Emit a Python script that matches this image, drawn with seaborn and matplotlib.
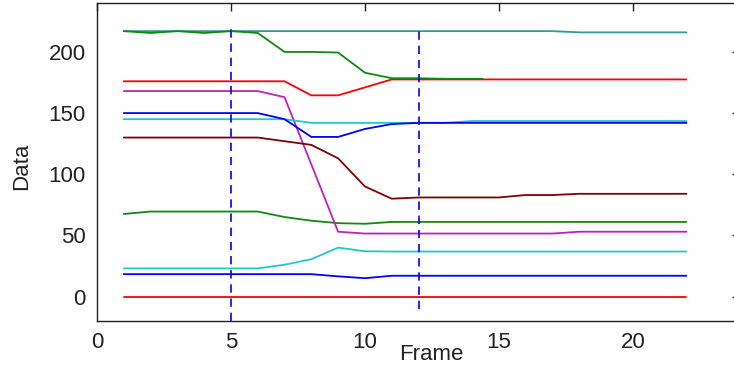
import matplotlib
matplotlib.use("Agg")
import matplotlib.pyplot as plt
import seaborn as sns
import pandas as pd
import numpy as np

frames = list(range(1, 23))

# series values (frames 1..22)
teal_top   = [217]*17 + [216]*5
red_top    = [176, 176, 176, 176, 176, 176, 176, 164.5, 164.5, 171, 177.5] + [177.5]*11
magenta    = [168, 168, 168, 168, 168, 168, 163, 108, 53, 51.5, 51.5, 51.5, 51.5, 51.5,
              51.5, 51.5, 51.5, 53, 53, 53, 53, 53]
blue_top   = [150, 150, 150, 150, 150, 150, 145, 130.5, 130.5, 137, 141, 142] + [142]*10
cyan_top   = [145]*7 + [142]*6 + [143.5]*9
brown      = [130, 130, 130, 130, 130, 130, 127, 124, 113, 90, 80, 81, 81, 81, 81,
              83, 83, 84, 84, 84, 84, 84]
green_low  = [67.5, 69.5, 69.5, 69.5, 69.5, 69.5, 65, 62, 60, 59.5] + [61]*12
cyan_low   = [23]*6 + [26, 30.5, 40, 37] + [36.8]*12
blue_low   = [18.3]*8 + [16.5, 15] + [17]*12
red_low    = [0]*22

green_frames = list(range(1, 15)) + [14.4]
green_top  = [217, 215.5, 217, 215.5, 217, 215.5, 200, 200, 199.5, 183, 178.5,
              178.5, 178, 178, 178]

vlines_x = [5, 12]
vlines_ymin = [-20, -10]
vlines_ymax = [221, 221]

xticks = [0, 5, 10, 15, 20]
yticks = [0, 50, 100, 150, 200]

sns.set_style("white")
plt.rcParams['font.family'] = ['Liberation Sans', 'DejaVu Sans']

fig = plt.figure(figsize=(7.34, 3.68), dpi=100)
ax = fig.add_axes([97/734, 1 - 321/368, 643/734, 318/368])

series = [
    (frames, red_low, '#ff0000'),
    (frames, blue_low, '#0000ff'),
    (frames, cyan_low, '#20c8c8'),
    (frames, green_low, '#118811'),
    (frames, magenta, '#c020c0'),
    (frames, brown, '#800000'),
    (frames, cyan_top, '#20c8c8'),
    (frames, blue_top, '#0000ff'),
    (frames, teal_top, '#339999'),
    (frames, red_top, '#ff0000'),
    (green_frames, green_top, '#118811'),
]
for xs, ys, c in series:
    df = pd.DataFrame({'Frame': xs, 'Data': ys})
    sns.lineplot(data=df, x='Frame', y='Data', color=c, lw=1.3, ax=ax,
                 estimator=None, sort=False)

for xv, y0, y1 in zip(vlines_x, vlines_ymin, vlines_ymax):
    ax.plot([xv, xv], [y0, y1], color='#0000ff', lw=1.2, dashes=(5, 3.5))

ax.set_xlim(0, 24)
ax.set_ylim(-20, 240)
ax.set_xticks(xticks)
ax.set_yticks(yticks)
ax.tick_params(direction='in', top=True, right=True, length=5.5, width=1.0,
               labelsize=16, pad=8, colors='#222222')
for s in ax.spines.values():
    s.set_visible(True)
    s.set_color('#222222')
    s.set_linewidth(1.0)

ax.set_xlabel('Frame', fontsize=16, color='#222222')
ax.set_ylabel('Data', fontsize=16, color='#222222')
ax.xaxis.set_label_coords((431 - 97) / 643, -(354 - 321) / 318)
ax.yaxis.set_label_coords(-(97 - 22) / 643, (321 - 166) / 318)
ax.xaxis.label.set_va('center')
ax.yaxis.label.set_va('center')

fig.savefig('out.png', dpi=100)
